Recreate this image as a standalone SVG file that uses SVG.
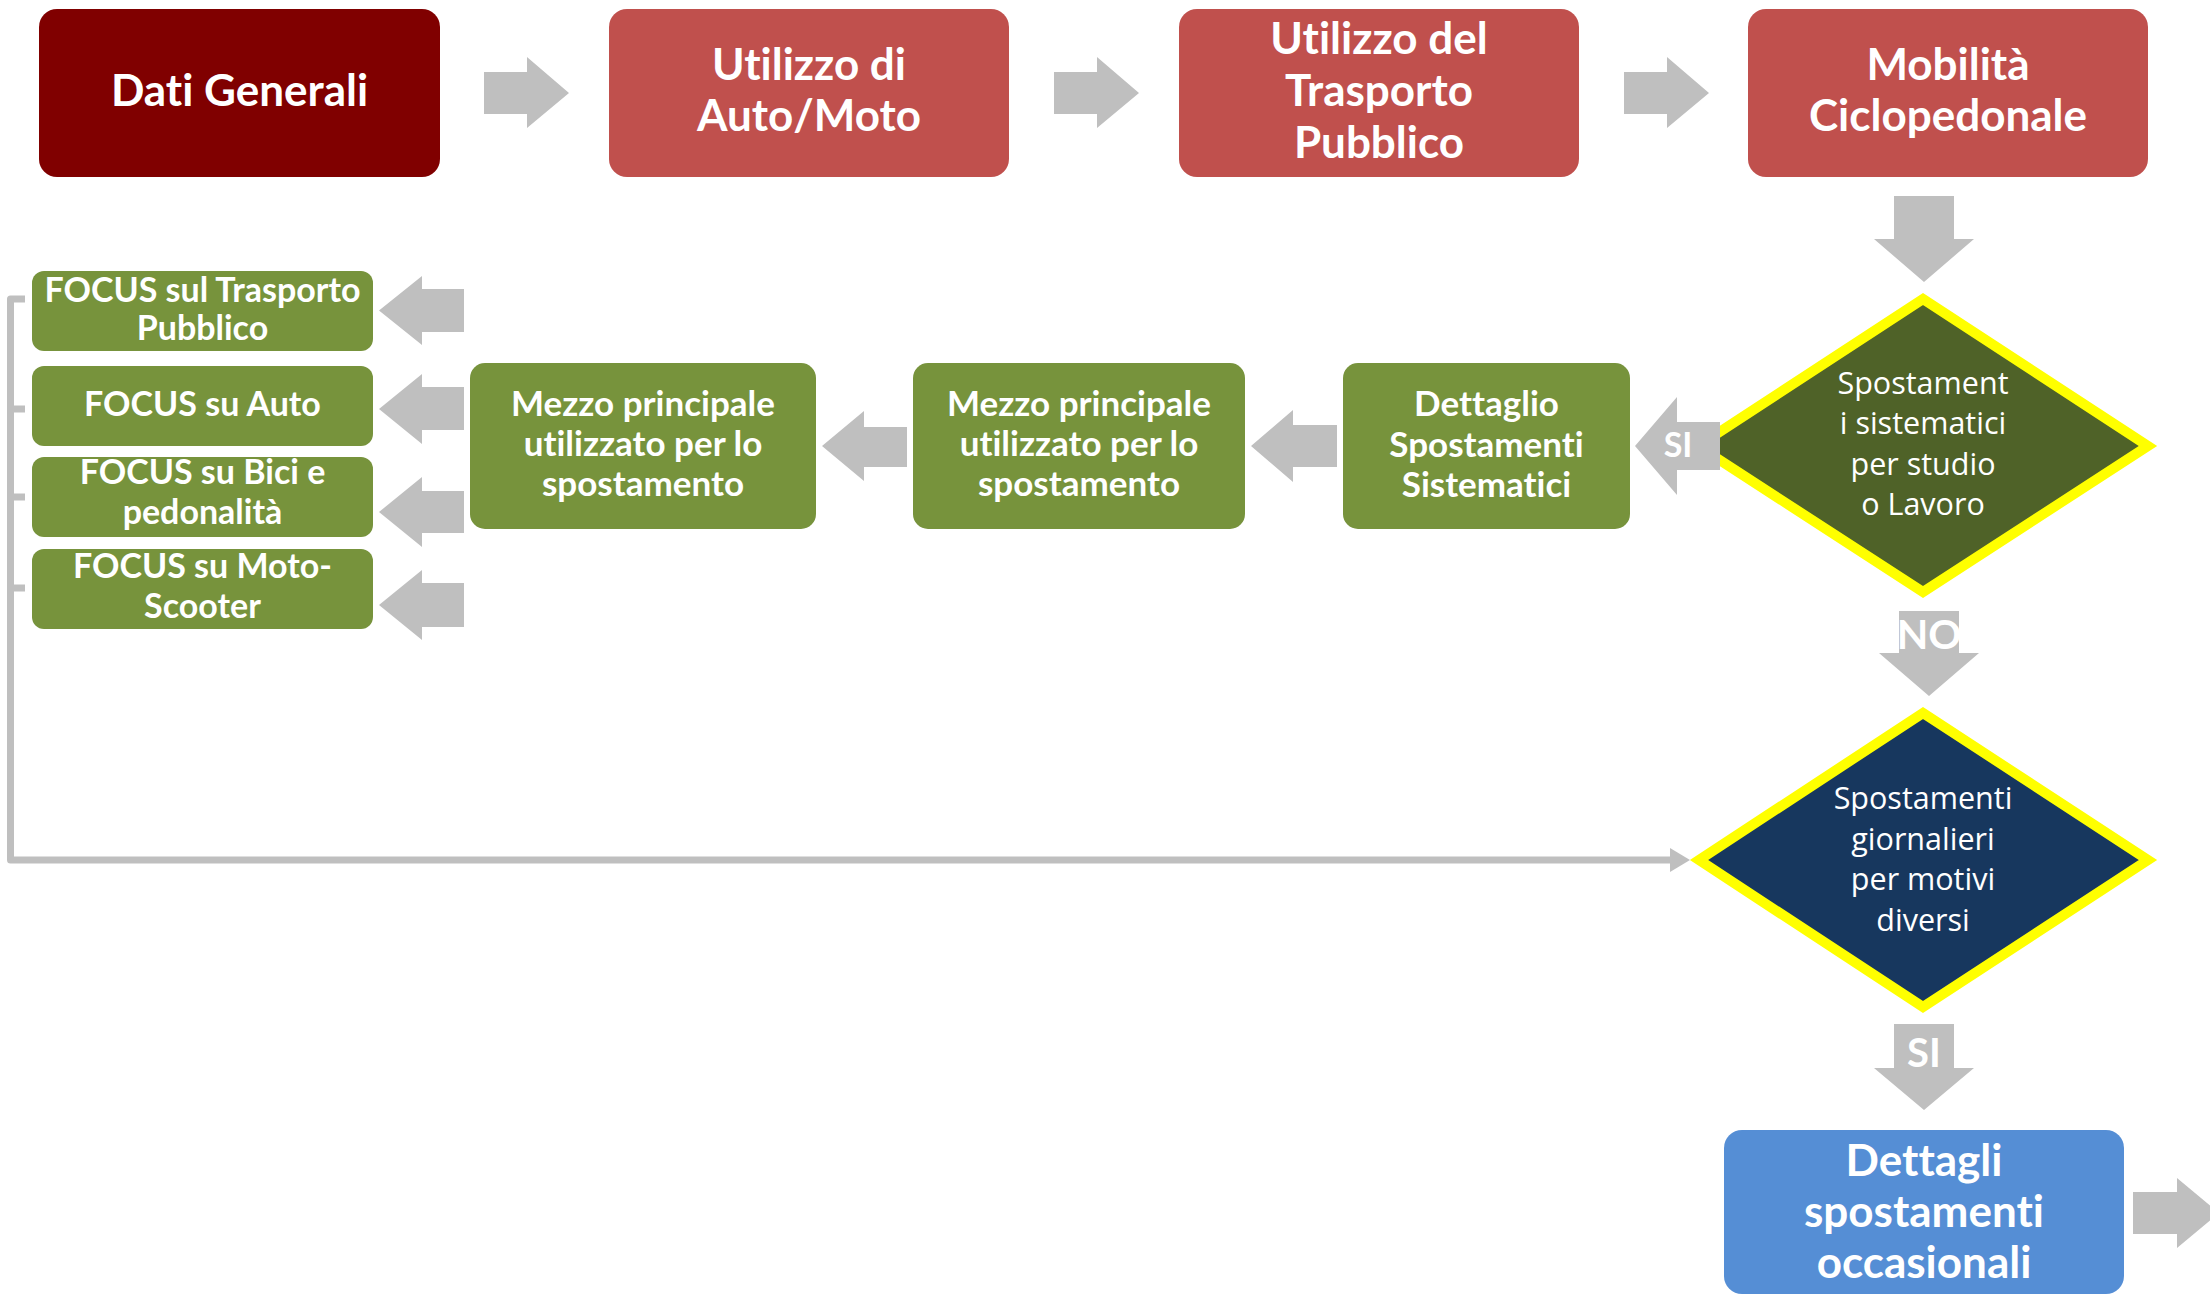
<svg xmlns="http://www.w3.org/2000/svg" width="2210" height="1294" viewBox="0 0 2210 1294">
<style>
text{font-variant-ligatures:none}
.bt{font-family:Lato,"Liberation Sans",sans-serif;font-weight:700;fill:#fff;text-anchor:middle}
.top{font-size:44px}
.grn{font-size:35px}
.foc{font-size:34px}
.dt{font-family:"Open Sans","Liberation Sans",sans-serif;font-size:30.5px;fill:#fff;text-anchor:middle}
.arr{fill:#BFBFBF}
.lbl{font-family:Lato,"Liberation Sans",sans-serif;font-weight:700;fill:#fff;text-anchor:middle}
.red{fill:#C0504D}
.green{fill:#77933C}
.dia{stroke:#FFFF00;stroke-width:10;stroke-linejoin:miter}
</style>
<rect width="2210" height="1294" fill="#fff"/>

<g id="connectors">
  <polygon class="arr" points="484,72 527,72 527,57 569,93 527,128 527,114 484,114"/>
  <polygon class="arr" points="1054,72 1097,72 1097,57 1139,93 1097,128 1097,114 1054,114"/>
  <polygon class="arr" points="1624,72 1667,72 1667,57 1709,93 1667,128 1667,114 1624,114"/>
  <polygon class="arr" points="1894,196 1954,196 1954,239 1974,239 1924,282 1874,239 1894,239"/>
  <polygon class="arr" points="1337,425 1293,425 1293,410 1251,446 1293,482 1293,467 1337,467"/>
  <polygon class="arr" points="907,427 864,427 864,411 822,446 864,481 864,467 907,467"/>
  <polygon class="arr" points="464,289 422,289 422,276 379,310.5 422,345 422,332 464,332"/>
  <polygon class="arr" points="464,387 422,387 422,374 379,409 422,444 422,430 464,430"/>
  <polygon class="arr" points="464,491 422,491 422,477 379,512 422,547 422,533 464,533"/>
  <polygon class="arr" points="464,583 422,583 422,570 379,605 422,640 422,627 464,627"/>
  <polygon class="arr" points="1899,611 1959,611 1959,653 1979,653 1929,696 1879,653 1899,653"/>
  <text class="lbl" x="1929" y="649" font-size="41">NO</text>
  <polygon class="arr" points="1894,1024 1954,1024 1954,1068 1974,1068 1924,1110 1874,1068 1894,1068"/>
  <text class="lbl" x="1924" y="1067" font-size="40">SI</text>
  <polygon class="arr" points="2133,1192 2177,1192 2177,1178 2219,1213 2177,1248 2177,1234 2133,1234"/>
  <path d="M25,299 H10.5 V860 H1672 M10.5,409 H25 M10.5,497 H25 M10.5,588 H25" fill="none" stroke="#BFBFBF" stroke-width="7" stroke-linejoin="round"/>
  <polygon class="arr" points="1670,848 1690,860 1670,872"/>
</g>

<g id="dati-generali">
  <rect x="39" y="9" width="401" height="168" rx="18" fill="#800000"/>
  <text class="bt top" x="239.5" y="106">Dati Generali</text>
</g>
<g id="utilizzo-auto-moto">
  <rect class="red" x="609" y="9" width="400" height="168" rx="18"/>
  <text class="bt top" x="809" y="80">Utilizzo di</text>
  <text class="bt top" x="809" y="131">Auto/Moto</text>
</g>
<g id="utilizzo-trasporto-pubblico">
  <rect class="red" x="1179" y="9" width="400" height="168" rx="18"/>
  <text class="bt top" x="1379" y="54">Utilizzo del</text>
  <text class="bt top" x="1379" y="106">Trasporto</text>
  <text class="bt top" x="1379" y="158">Pubblico</text>
</g>
<g id="mobilita-ciclopedonale">
  <rect class="red" x="1748" y="9" width="400" height="168" rx="18"/>
  <text class="bt top" x="1948" y="80">Mobilità</text>
  <text class="bt top" x="1948" y="131">Ciclopedonale</text>
</g>

<g id="focus-trasporto-pubblico">
  <rect class="green" x="32" y="271" width="341" height="80" rx="12"/>
  <text class="bt foc" x="202.5" y="302">FOCUS sul Trasporto</text>
  <text class="bt foc" x="202.5" y="340">Pubblico</text>
</g>
<g id="focus-auto">
  <rect class="green" x="32" y="366" width="341" height="80" rx="12"/>
  <text class="bt foc" x="202.5" y="416">FOCUS su Auto</text>
</g>
<g id="focus-bici">
  <rect class="green" x="32" y="457" width="341" height="80" rx="12"/>
  <text class="bt foc" x="202.5" y="484">FOCUS su Bici e</text>
  <text class="bt foc" x="202.5" y="524">pedonalità</text>
</g>
<g id="focus-moto">
  <rect class="green" x="32" y="549" width="341" height="80" rx="12"/>
  <text class="bt foc" x="202.5" y="578">FOCUS su Moto-</text>
  <text class="bt foc" x="202.5" y="618">Scooter</text>
</g>

<g id="mezzo-principale-1">
  <rect class="green" x="470" y="363" width="346" height="166" rx="15"/>
  <text class="bt grn" x="643" y="416">Mezzo principale</text>
  <text class="bt grn" x="643" y="456">utilizzato per lo</text>
  <text class="bt grn" x="643" y="496">spostamento</text>
</g>
<g id="mezzo-principale-2">
  <rect class="green" x="913" y="363" width="332" height="166" rx="15"/>
  <text class="bt grn" x="1079" y="416">Mezzo principale</text>
  <text class="bt grn" x="1079" y="456">utilizzato per lo</text>
  <text class="bt grn" x="1079" y="496">spostamento</text>
</g>
<g id="dettaglio-spostamenti-sistematici">
  <rect class="green" x="1343" y="363" width="287" height="166" rx="15"/>
  <text class="bt grn" x="1486.5" y="416">Dettaglio</text>
  <text class="bt grn" x="1486.5" y="457">Spostamenti</text>
  <text class="bt grn" x="1486.5" y="497">Sistematici</text>
</g>

<g id="decisione-sistematici">
  <polygon class="dia" points="1923,299 2148,446 1923,592 1698,446" fill="#4F6228"/>
  <text class="dt" x="1923" y="394">Spostament</text>
  <text class="dt" x="1923" y="434">i sistematici</text>
  <text class="dt" x="1923" y="475">per studio</text>
  <text class="dt" x="1923" y="515">o Lavoro</text>
</g>
<g id="si-label-arrow">
  <polygon class="arr" points="1720,422 1677,422 1677,397 1635,446 1677,495 1677,470 1720,470"/>
  <text class="lbl" x="1678" y="457" font-size="34">SI</text>
</g>

<g id="decisione-giornalieri">
  <polygon class="dia" points="1923,713 2148,860 1923,1007 1699,860" fill="#17375E"/>
  <text class="dt" x="1923" y="809">Spostamenti</text>
  <text class="dt" x="1923" y="850">giornalieri</text>
  <text class="dt" x="1923" y="890">per motivi</text>
  <text class="dt" x="1923" y="931">diversi</text>
</g>

<g id="dettagli-spostamenti-occasionali">
  <rect x="1724" y="1130" width="400" height="164" rx="18" fill="#558ED5"/>
  <text class="bt top" x="1924" y="1176">Dettagli</text>
  <text class="bt top" x="1924" y="1227">spostamenti</text>
  <text class="bt top" x="1924" y="1278">occasionali</text>
</g>
</svg>
